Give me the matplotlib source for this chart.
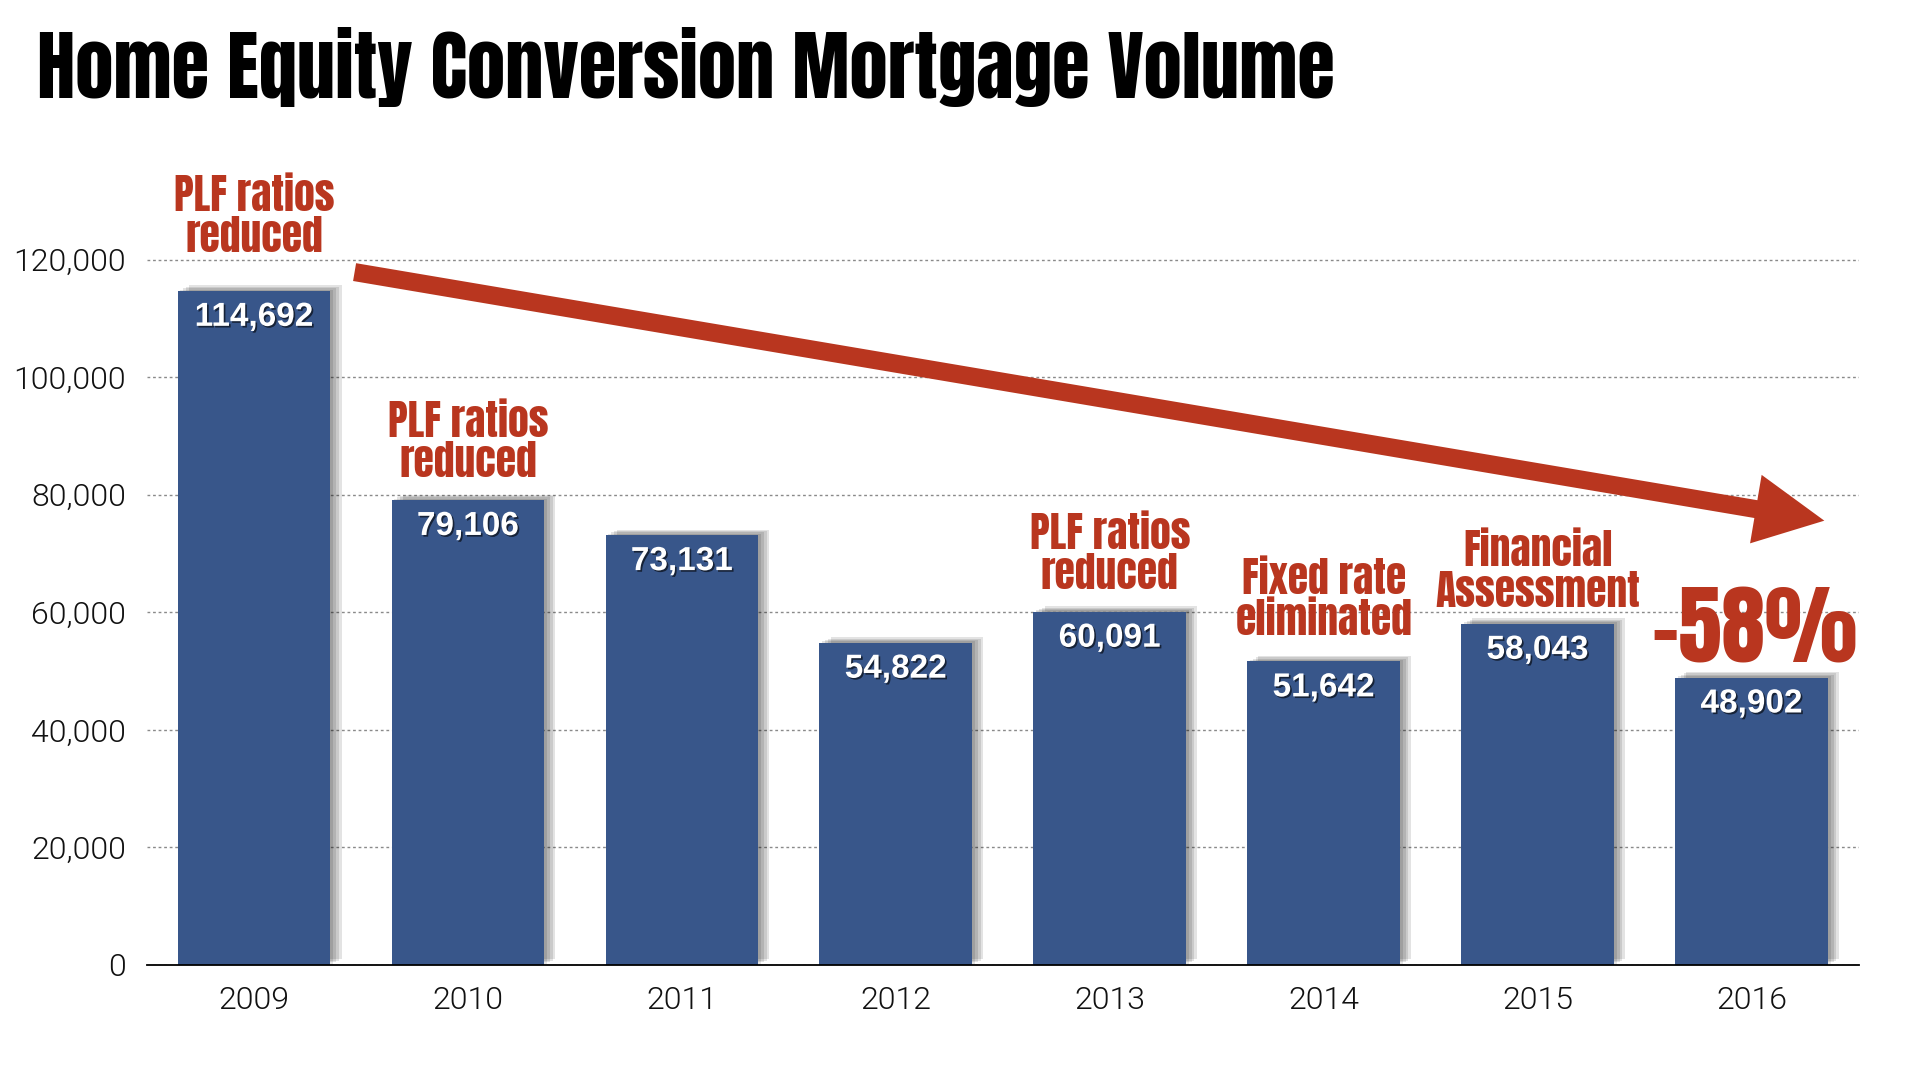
import matplotlib
matplotlib.use("Agg")
import matplotlib.pyplot as plt
import matplotlib.patheffects as pe
from matplotlib.ticker import FuncFormatter

# data
years = ["2009", "2010", "2011", "2012", "2013", "2014", "2015", "2016"]
volumes = [114692, 79106, 73131, 54822, 60091, 51642, 58043, 48902]
notes = {
    "2009": "PLF ratios\nreduced",
    "2010": "PLF ratios\nreduced",
    "2013": "PLF ratios\nreduced",
    "2014": "Fixed rate\neliminated",
    "2015": "Financial\nAssessment",
}
decline_label = "-58%"
title = "Home Equity Conversion Mortgage Volume"

BAR = "#38568a"
RED = "#b9361f"
COND = ["Anton", "DejaVu Sans"]
LIGHT = ["Roboto", "Liberation Sans", "DejaVu Sans"]

fig = plt.figure(figsize=(19.2, 10.8), dpi=100)
ax = fig.add_axes([0.0766, 0.1065, 0.8914, 0.7074])

x = range(len(years))
bar_shadow = [pe.SimplePatchShadow(offset=(o, o * 0.5), shadow_rgbFace="black", alpha=0.11)
              for o in (2, 4, 6, 8)] + [pe.Normal()]
bars = ax.bar(x, volumes, width=0.714, color=BAR, zorder=3)
for b in bars:
    b.set_path_effects(bar_shadow)

ax.set_xlim(-0.5, len(years) - 0.5)
ax.set_ylim(0, 130000)
ax.set_yticks(range(0, 120001, 20000))
ax.yaxis.set_major_formatter(FuncFormatter(lambda v, _: f"{int(v):,}"))
ax.set_xticks(list(x))
ax.set_xticklabels(years)
ax.tick_params(axis="both", length=0, labelsize=23, colors="#111111")
ax.tick_params(axis="y", pad=15)
ax.tick_params(axis="x", pad=15)
for lbl in ax.get_xticklabels() + ax.get_yticklabels():
    lbl.set_family(LIGHT)
    lbl.set_fontweight(300)

ax.grid(axis="y", color="#8a8a8a", lw=1, linestyle=(0, (2, 2)), zorder=0)
for s in ("left", "right", "top"):
    ax.spines[s].set_visible(False)
ax.spines["bottom"].set_color("black")
ax.spines["bottom"].set_linewidth(1.3)
ax.spines["bottom"].set_zorder(4)

# value labels inside the bars
txt_shadow = [pe.withSimplePatchShadow(offset=(1.2, -1.2), shadow_rgbFace="black", alpha=0.6)]
for i, v in enumerate(volumes):
    ax.annotate(f"{v:,}", (i, v), xytext=(0, -19), textcoords="offset points",
                ha="center", va="center", color="white", fontsize=24, fontweight="bold",
                family="Liberation Sans", zorder=5, path_effects=txt_shadow)

# event notes above the bars
note_offset = {"2009": 54, "2010": 42, "2013": 42, "2014": 45, "2015": 38}
for yr, txt in notes.items():
    i = years.index(yr)
    ax.annotate(txt, (i, volumes[i]), xytext=(0, note_offset[yr]), textcoords="offset points",
                ha="center", va="center", color=RED, fontsize=30,
                family=COND, linespacing=0.98, annotation_clip=False, zorder=5)

ax.annotate(decline_label, (len(years) - 1, volumes[-1]), xytext=(2, 34),
            textcoords="offset points", ha="center", va="center", color=RED,
            fontsize=63, family=COND, annotation_clip=False, zorder=5)

# trend arrow from 2009 level down past 2016
ax.annotate("", xy=(7.34, 75600), xytext=(0.47, 117900),
            arrowprops=dict(arrowstyle="simple,head_length=5,head_width=5,tail_width=1.3",
                            mutation_scale=10, color=RED, lw=0, shrinkA=0, shrinkB=0),
            annotation_clip=False, zorder=6)

fig.text(0.0193, 0.909, title, ha="left", va="baseline", fontsize=55.3,
         family=COND, color="black")

fig.savefig("out.png", dpi=100)
